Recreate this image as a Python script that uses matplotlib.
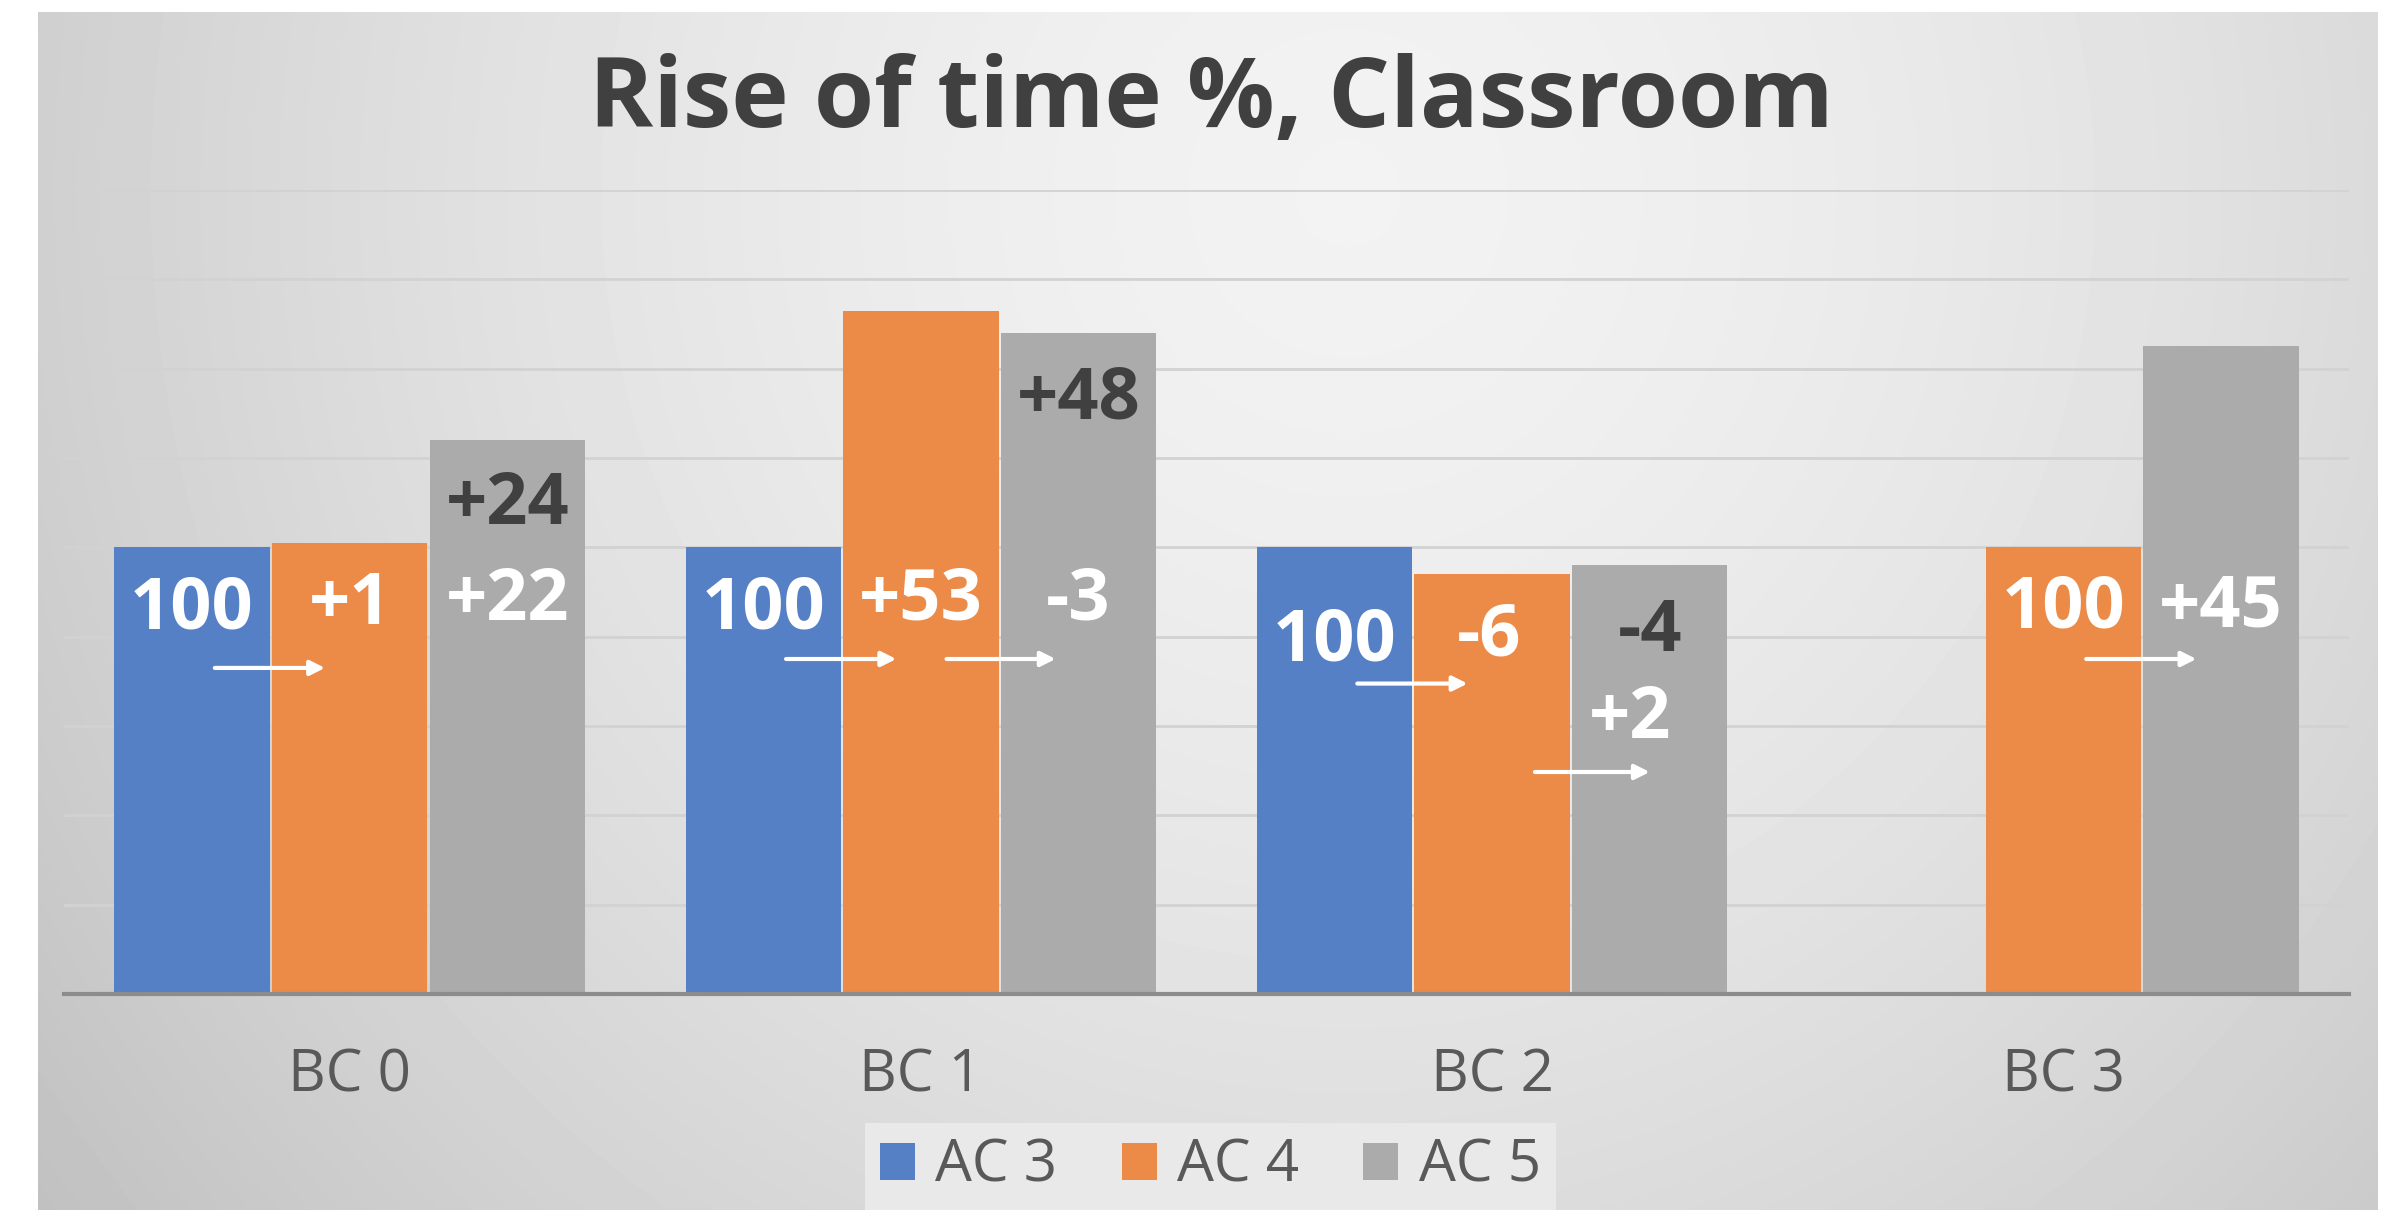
import numpy as np
import matplotlib
matplotlib.use("Agg")
import matplotlib.pyplot as plt

plt.rcParams["font.family"] = ["Open Sans", "DejaVu Sans"]

categories = ["BC 0", "BC 1", "BC 2", "BC 3"]
series_names = ["AC 3", "AC 4", "AC 5"]
ac3 = [100, 100, 100, np.nan]
ac4 = [101, 153, 94, 100]
ac5 = [124, 148, 96, 145]

# bar value labels: (category, series, text)
label_cat = [0, 0, 0, 0, 1, 1, 1, 1, 2, 2, 2, 2, 3, 3]
label_ser = [0, 1, 2, 2, 0, 1, 2, 2, 0, 1, 2, 2, 1, 2]
label_txt = ["100", "+1", "+22", "+24", "100", "+53", "-3", "+48",
             "100", "-6", "-4", "+2", "100", "+45"]
label_dark = [False, False, False, True, False, False, False, True,
              False, False, True, False, False, False]

# arrows between bars: (category, from series, to series)
arrow_cat = [0, 1, 1, 2, 2, 3]
arrow_from = [0, 0, 1, 0, 1, 1]
arrow_to = [1, 1, 2, 1, 2, 2]

# layout (positions of text/arrows in data units)
label_y = [86, 87, 88, 109.5, 86, 88, 88, 133, 79, 80, 81, 61.5, 86.3, 86.6]
label_dx = [0, 0, 0, 0, 0, 0, 0, 0, 0, -0.005, 0, -0.035, 0, 0]
arrow_y = [73, 75, 75, 69.5, 49.7, 75]
arrow_dx0 = [0.04, 0.04, 0.045, 0.04, 0.075, 0.04]
arrow_dx1 = [-0.043, -0.043, -0.04, -0.043, 0.0, -0.043]

colors = ["#5580C6", "#EC8A47", "#ABABAB"]
W, H = 2397, 1215
fig = plt.figure(figsize=(W / 100, H / 100), dpi=100)
fig.patch.set_facecolor("white")

# gradient background panel
bg = fig.add_axes([38 / W, 5 / H, (2378 - 38) / W, 1198 / H], zorder=-10)
gx, gy = np.meshgrid(np.linspace(0, 1, 600), np.linspace(0, 1, 300))
d = np.sqrt(((gx - 0.56) / 0.62) ** 2 + ((gy - 0.15) / 1.25) ** 2)
shade = np.clip(0.95 - 0.16 * d ** 1.6, 0, 1)
bg.imshow(shade, cmap="gray", vmin=0, vmax=1, aspect="auto",
          extent=(0, 1, 1, 0), interpolation="bilinear")
bg.axis("off")

ax = fig.add_axes([64 / W, 1 - 994 / H, (2349 - 64) / W, (994 - 190) / H])
ax.set_facecolor("none")

x = np.arange(len(categories))
step = 0.276
width = 0.272
values = [ac3, ac4, ac5]
for i, vals in enumerate(values):
    ax.bar(x + (i - 1) * step, vals, width, color=colors[i],
           label=series_names[i], zorder=2)

ax.set_xlim(-0.5, 3.5)
ax.set_ylim(0, 180)
ax.set_yticks(np.arange(0, 181, 20))
ax.yaxis.grid(True, color="#d2d2d2", lw=2, zorder=0)
ax.tick_params(axis="y", left=False, labelleft=False)
ax.set_xticks(x)
ax.set_xticklabels(categories, fontsize=42, color="#595959")
ax.tick_params(axis="x", length=0, pad=38)
for s in ["top", "left", "right"]:
    ax.spines[s].set_visible(False)
ax.spines["bottom"].set_color("#8c8c8c")
ax.spines["bottom"].set_linewidth(3)

for c, s, t, y, dx, dark in zip(label_cat, label_ser, label_txt, label_y,
                                 label_dx, label_dark):
    ax.text(c + (s - 1) * step + dx, y, t, ha="center", va="center",
            fontsize=52, fontweight="bold",
            color="#404040" if dark else "white", zorder=4)

for c, f, t, y, d0, d1 in zip(arrow_cat, arrow_from, arrow_to, arrow_y,
                              arrow_dx0, arrow_dx1):
    ax.annotate("", xy=(c + (t - 1) * step + d1, y),
                xytext=(c + (f - 1) * step + d0, y),
                arrowprops=dict(arrowstyle="-|>", color="white", lw=3,
                                mutation_scale=22, shrinkA=0, shrinkB=0),
                zorder=4)

fig.text(1211 / W, 1 - 101 / H, "Rise of time %, Classroom", ha="center",
         va="center", fontsize=70, fontweight="bold", color="#404040")

leg = ax.legend(loc="center", bbox_to_anchor=(0.505, 0.04),
                bbox_transform=fig.transFigure, ncol=3, fontsize=42,
                frameon=True, facecolor="#e9e9e9", edgecolor="none",
                framealpha=1, fancybox=False, handlelength=0.6,
                handleheight=0.6, handletextpad=0.35, columnspacing=1.1,
                borderpad=0.25, borderaxespad=0)
for t in leg.get_texts():
    t.set_color("#595959")

fig.savefig("out.png", dpi=100)
